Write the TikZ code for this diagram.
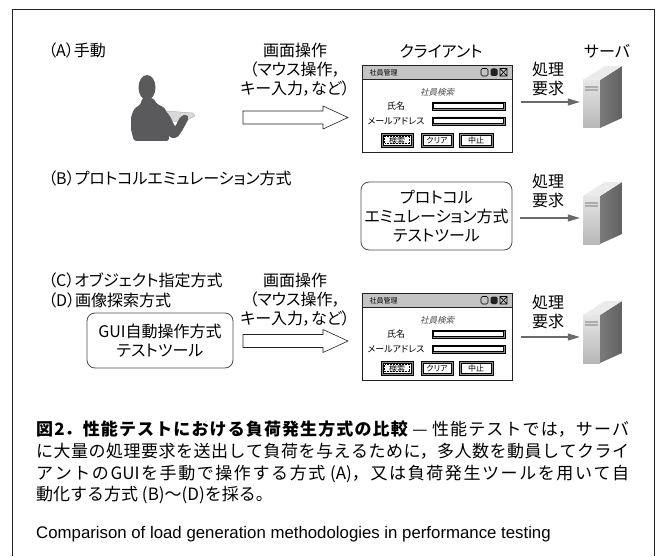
\documentclass[tikz,border=0pt]{standalone}
\usepackage{fontspec}
\setmainfont{Noto Sans CJK JP}
\newfontfamily\jp[RawFeature=+palt]{Noto Sans CJK JP}
\newfontfamily\jpsl[RawFeature=+palt,FakeSlant=0.25]{Noto Sans CJK JP}
\newfontfamily\capen{Liberation Sans}
\usetikzlibrary{arrows.meta,positioning}
\XeTeXlinebreaklocale "ja"
\XeTeXlinebreakskip=0pt plus 3pt

\definecolor{ink}{HTML}{222222}
\definecolor{person}{HTML}{5A5A5C}
\definecolor{reqgray}{HTML}{6A6A6A}
\definecolor{barfill}{HTML}{C4C4C4}

\tikzset{
  clientwin/.pic={
    \node[draw=ink,line width=1.2pt,fill=white,minimum width=150pt,minimum height=87pt,
      inner sep=0pt,anchor=north west] (-box) at (0,0) {};
    \draw[ink,line width=0.7pt,fill=barfill] (0,0) rectangle (150,14);
    \node[anchor=west,font=\jp\fontsize{7pt}{8pt}\selectfont] at (4,7.5) {社員管理};
    \draw[line width=0.6pt,rounded corners=1.5pt] (119,3.5) rectangle (126,11);
    \fill[ink,rounded corners=1.5pt] (128.5,3.5) rectangle (135.5,11);
    \draw[line width=0.6pt] (138,3.5) rectangle (145,11) (138,3.5) -- (145,11) (138,11) -- (145,3.5);
    \node[font=\jpsl\fontsize{8.5pt}{9pt}\selectfont,text=black!70] at (75,27) {社員検索};
    \node[font=\jp\fontsize{9pt}{10pt}\selectfont] at (34,41) {氏名};
    \node[font=\jp\fontsize{9pt}{10pt}\selectfont] at (34,56) {メールアドレス};
    \draw[fill=black!45,line width=0.5pt] (70,37) rectangle (143,45) (70,52) rectangle (143,60);
    \draw[fill=white,line width=0.3pt] (71.5,38.5) rectangle (141.5,43.5) (71.5,53.5) rectangle (141.5,58.5);
    \foreach \xa/\xb/\txt in {19/51/検索,59/91/クリア,97/131/中止}{
      \draw[fill=black!45,line width=0.6pt] (\xa,68) rectangle (\xb,82);
      \draw[fill=white,line width=0.3pt] (\xa+2,70) rectangle (\xb-2,80);
      \node[font=\jp\fontsize{8pt}{9pt}\selectfont] at ({(\xa+\xb)/2},75) {\txt};
    }
    \draw[densely dotted,line width=0.5pt] (22.5,71.5) rectangle (47.5,78.5);
  },
  server/.pic={
    \shade[top color=black!10,bottom color=black!28] (0,0) rectangle (17,48);
    \shade[left color=black!52,right color=black!62] (17,0) -- (39,-14) -- (39,38) -- (17,48) -- cycle;
    \fill[black!8] (0,0) -- (22,-14) -- (39,-14) -- (17,0) -- cycle;
    \fill[black!32] (2,6) rectangle (15,11);
    \draw[black!15,line width=0.4pt] (2,8.5) -- (15,8.5);
    \node[minimum width=39pt,minimum height=40pt,inner sep=0pt] (-body) at (19.5,22) {};
  }
}

\begin{document}
\begin{tikzpicture}[x=1pt,y=-1pt,
  lbl/.style={font=\jp\fontsize{16pt}{19pt}\selectfont,inner sep=0pt},
  toolbox/.style={lbl,draw=black!70,line width=0.8pt,rounded corners=8pt,align=center},
  hollow/.style={draw=ink,line width=0.6pt,fill=white},
  req/.style={draw=reqgray,line width=1.3pt,-{Triangle[length=12pt,width=7pt]},
    shorten <=8pt,shorten >=3pt},
  frame/.style={draw=ink,line width=0.9pt}]
\useasboundingbox (0,0) rectangle (660,556);
\draw[frame] (12,556) -- (12,9) -- (654,9) -- (654,556);

% (A) by hand
\node[lbl,anchor=west] (ma) at (48,50) {（A）手動};
\fill[person] (147,87.5) ellipse [x radius=8.5pt,y radius=12.5pt];
\fill[person,rounded corners=2.5pt] (142,98) -- (153,98) -- (157,104) -- (165,108)
  -- (169,120) -- (169,141) -- (134,141) -- (131,130) -- (131,117) -- (134,109)
  -- (141,104) -- cycle;
\filldraw[fill=black!15,draw=black!35,line width=0.4pt] (166,111) -- (193,113)
  -- (195,116) -- (183,122) -- (171,121) -- cycle;
\fill[person,rounded corners=2pt] (163,108) -- (170,116) -- (175,127) -- (180,117)
  -- (186,114) -- (189,118) -- (182,131) -- (177,138) -- (170,138) -- (165,125) -- cycle;

\node[lbl,align=center] (op1) at (295,70) {画面操作\\（マウス操作，\\キー入力，など）};
\coordinate (ha1) at (243,117.5);
\draw[hollow] (ha1) -- ++(0,-6.5) -- ++(80,0) -- ++(0,-5) -- ++(25,11.5) -- ++(-25,11.5)
  -- ++(0,-5) -- ++(-80,0) -- cycle;

\node[lbl] (tcl) at (441,51) {クライアント};
\node[lbl] (tsv) at (607,51) {サーバ};
\pic (cl1) at (362,65) {clientwin};
\pic (sv1) at (583,80) {server};
\node[lbl,align=center] (rq1) at (548,79) {処理\\要求};
\draw[req] (cl1-box.east |- sv1-body.west) -- (sv1-body.west);

% (B) protocol emulation
\node[lbl,anchor=west] (mb) at (48,178) {（B）プロトコルエミュレーション方式};
\node[toolbox,minimum width=151pt,minimum height=68pt] (pbox) at (436.5,216)
  {プロトコル\\エミュレーション方式\\テストツール};
\pic (sv2) at (583,196) {server};
\node[lbl,align=center] (rq2) at (548,191) {処理\\要求};
\draw[req] (pbox.east |- sv2-body.west) -- (sv2-body.west);

% (C)(D) GUI automation
\node[lbl,anchor=west] (mc) at (48,280) {（C）オブジェクト指定方式};
\node[lbl,anchor=west] (md) at (48,300) {（D）画像探索方式};
\node[toolbox,minimum width=146pt,minimum height=55pt] (gbox) at (160,340.5)
  {GUI自動操作方式\\テストツール};
\node[lbl,align=center] (op2) at (295,300) {画面操作\\（マウス操作，\\キー入力，など）};
\coordinate (ha2) at (243,341);
\draw[hollow] (ha2) -- ++(0,-6.5) -- ++(80,0) -- ++(0,-5) -- ++(25,11.5) -- ++(-25,11.5)
  -- ++(0,-5) -- ++(-80,0) -- cycle;
\pic (cl2) at (362,293) {clientwin};
\pic (sv3) at (583,315) {server};
\node[lbl,align=center] (rq3) at (548,312) {処理\\要求};
\draw[req] (cl2-box.east |- sv3-body.west) -- (sv3-body.west);

% caption
\node[anchor=north west,inner sep=0pt,text width=593pt,align=justify,
  font=\fontsize{17pt}{21.7pt}\selectfont] (cap) at (36,421)
  {\textbf{図2．性能テストにおける負荷発生方式の比較} — 性能テストでは，サーバ\linebreak
  に大量の処理要求を送出して負荷を与えるために，多人数を動員してクライ\linebreak
  アントのGUIを手動で操作する方式 (A)，又は負荷発生ツールを用いて自\linebreak
  動化する方式 (B)～(D)を採る。};
\node[anchor=west,inner sep=0pt,font=\capen\fontsize{16.8pt}{20pt}\selectfont] (capen)
  at (36,534) {Comparison of load generation methodologies in performance testing};
\end{tikzpicture}
\end{document}
